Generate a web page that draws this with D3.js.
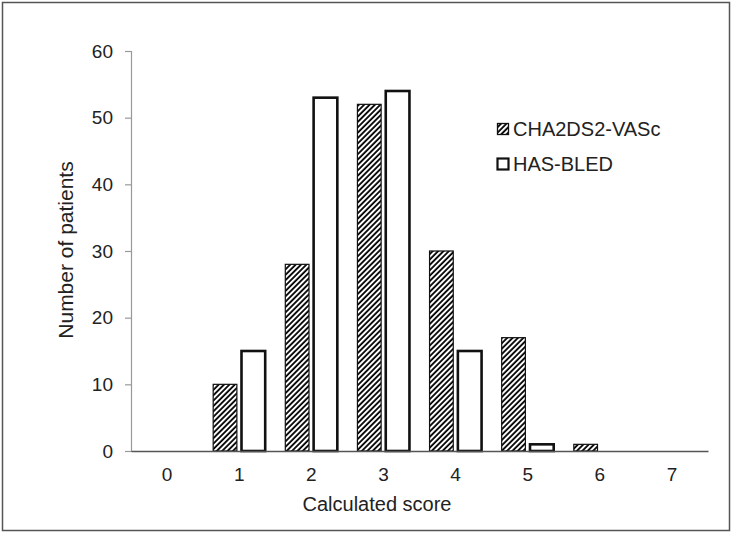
<!DOCTYPE html>
<html>
<head>
<meta charset="utf-8">
<script src="https://cdn.jsdelivr.net/npm/d3@7"></script>
<style>
  html, body { margin: 0; padding: 0; background: #fff; }
  text { font-family: "Liberation Sans", Arial, sans-serif; }
</style>
</head>
<body>
<svg id="chart" width="733" height="533"></svg>
<script>
const categories = ["0", "1", "2", "3", "4", "5", "6", "7"];
const seriesNames = ["CHA2DS2-VASc", "HAS-BLED"];
const chaValues = [0, 10, 28, 52, 30, 17, 1, 0];
const hasValues = [0, 15, 53, 54, 15, 1, 0, 0];
const yTicks = [0, 10, 20, 30, 40, 50, 60];

const svg = d3.select("#chart");
const margin = { left: 131, right: 25, top: 51, bottom: 82 };
const W = 733, H = 533;

// frame
svg.append("rect").attr("x", 2.5).attr("y", 2.5).attr("width", 727).attr("height", 528)
  .attr("fill", "#fff").attr("stroke", "#555").attr("stroke-width", 1.5);

// hatch pattern
const defs = svg.append("defs");
const pat = defs.append("pattern").attr("id", "hatch").attr("patternUnits", "userSpaceOnUse")
  .attr("width", 3.8).attr("height", 3.8).attr("patternTransform", "rotate(45)");
pat.append("rect").attr("width", 3.8).attr("height", 3.8).attr("fill", "#fff");
pat.append("line").attr("x1", 1).attr("y1", 0).attr("x2", 1).attr("y2", 3.8)
  .attr("stroke", "#000").attr("stroke-width", 1.8);

const x0 = d3.scaleBand().domain(categories).range([margin.left, W - margin.right]).padding(0);
const x1 = d3.scaleBand().domain(seriesNames).range([0, x0.bandwidth()])
  .paddingInner(0.163).paddingOuter(0.355);
const y = d3.scaleLinear().domain([0, 60]).range([H - margin.bottom, margin.top]);

// y axis
const yAxis = svg.append("g").attr("transform", `translate(${margin.left},0)`)
  .call(d3.axisLeft(y).tickValues(yTicks).tickSize(6).tickPadding(12));
yAxis.select(".domain").attr("stroke", "#999").attr("stroke-width", 1.2);
yAxis.selectAll(".tick line").attr("stroke", "#999").attr("stroke-width", 1.2);
yAxis.selectAll(".tick text").attr("font-size", 19).attr("fill", "#222")
  .attr("font-family", "'Liberation Sans', Arial, sans-serif");

// bars
const data = [
  { name: seriesNames[0], values: chaValues },
  { name: seriesNames[1], values: hasValues }
];
data.forEach((s, si) => {
  const g = svg.append("g");
  g.selectAll("rect")
    .data(categories.map((c, i) => ({ c, v: s.values[i] })).filter(d => d.v > 0))
    .join("rect")
    .attr("x", d => x0(d.c) + x1(s.name))
    .attr("width", x1.bandwidth())
    .attr("y", d => y(d.v))
    .attr("height", d => y(0) - y(d.v))
    .attr("fill", si === 0 ? "url(#hatch)" : "#fff")
    .attr("stroke", "#111")
    .attr("stroke-width", si === 0 ? 1.2 : 2.6);
});

// x axis
const xAxis = svg.append("g").attr("transform", `translate(0,${y(0)})`)
  .call(d3.axisBottom(x0).tickSize(0).tickPadding(17));
xAxis.select(".domain").attr("stroke", "#555").attr("stroke-width", 1.3);
xAxis.selectAll(".tick text").attr("font-size", 19).attr("fill", "#222")
  .attr("font-family", "'Liberation Sans', Arial, sans-serif");

// axis titles
svg.append("text").attr("x", 377).attr("y", 511).attr("text-anchor", "middle")
  .attr("font-size", 20).attr("fill", "#222").text("Calculated score");
svg.append("text").attr("transform", "translate(73,250) rotate(-90)").attr("text-anchor", "middle")
  .attr("font-size", 21).attr("fill", "#222").text("Number of patients");

// legend
const legend = svg.append("g");
seriesNames.forEach((n, i) => {
  const ly = 123.5 + i * 35;
  legend.append("rect").attr("x", 497.5).attr("y", ly).attr("width", 11).attr("height", 11)
    .attr("fill", i === 0 ? "url(#hatch)" : "#fff").attr("stroke", "#111")
    .attr("stroke-width", i === 0 ? 1.3 : 2.2);
  legend.append("text").attr("x", 513).attr("y", ly + 12).attr("font-size", 20)
    .attr("fill", "#222").text(n);
});
</script>
</body>
</html>
